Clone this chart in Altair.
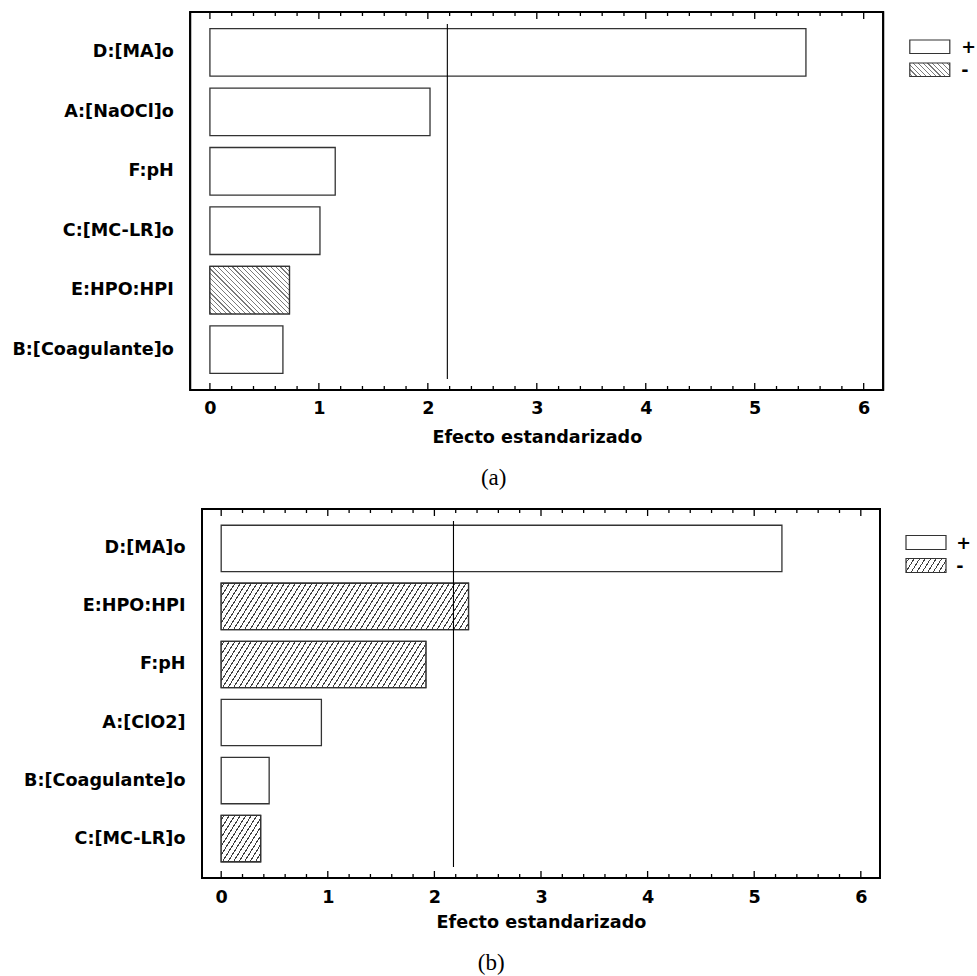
import altair as alt
import pandas as pd

# ---------------- data ----------------
factors_a = ["D:[MA]o", "A:[NaOCl]o", "F:pH", "C:[MC-LR]o", "E:HPO:HPI", "B:[Coagulante]o"]
effects_a = [5.47, 2.02, 1.15, 1.01, 0.73, 0.67]
signs_a = ["+", "+", "+", "+", "-", "+"]

factors_b = ["D:[MA]o", "E:HPO:HPI", "F:pH", "A:[ClO2]", "B:[Coagulante]o", "C:[MC-LR]o"]
effects_b = [5.26, 2.32, 1.92, 0.94, 0.45, 0.37]
signs_b = ["+", "-", "-", "+", "+", "-"]

critical_t = 2.179
x_domain = [-0.18, 6.18]
major_ticks = [0, 1, 2, 3, 4, 5, 6]
minor_ticks = [0.2, 0.4, 0.6, 0.8, 1.2, 1.4, 1.6, 1.8, 2.2, 2.4, 2.6, 2.8,
               3.2, 3.4, 3.6, 3.8, 4.2, 4.4, 4.6, 4.8, 5.2, 5.4, 5.6, 5.8]
legend_signs = ["+", "-"]
axis_title = "Efecto estandarizado"

FONT = "DejaVu Sans"
LABEL_SIZE = 17.6
BAR_STROKE = "#333333"
PAD_INNER, PAD_OUTER = 0.2, 0.28
MAJOR_LEN, MINOR_LEN = 7, 4
Y_EXTENT = 190.7


def hatch(W, H, direction, color, period, lw, m=1.0):
    """Stripe fill built as a hard-stop linear gradient (m = stripe steepness)."""
    total = W + H / m
    white = "white"
    stops = [alt.GradientStop(offset=0, color=white)]
    s = period / 2.0
    last = 0.0
    while s - lw / 2 < total:
        a = max(last, (s - lw / 2) / total)
        b = min(1.0, (s + lw / 2) / total)
        a = round(a, 5)
        b = round(max(a, b), 5)
        stops += [alt.GradientStop(offset=a, color=white),
                  alt.GradientStop(offset=a, color=color),
                  alt.GradientStop(offset=b, color=color),
                  alt.GradientStop(offset=b, color=white)]
        last = b
        s += period
    stops.append(alt.GradientStop(offset=1, color=white))
    rp = H / (m * W)
    k = total / (W * (1 + rp * rp))
    if direction == "/":
        x1, y1, x2, y2 = 0, 0, k, k * rp
    else:
        x1, y1, x2, y2 = 0, 1, k, 1 - k * rp
    return alt.LinearGradient(gradient="linear", stops=stops,
                              x1=x1, y1=y1, x2=x2, y2=y2)


def panel(factors, effects, signs, W, H, shift, direction, hcolor, period, lw, steep,
          leg_x, leg_y1, leg_y2, leg_w, leg_h, text_x,
          caption, caption_offset, label_pad, title_pad):
    """W = frame width, shift = how far the frame starts left of the view origin."""
    df = pd.DataFrame({"factor": factors, "effect": effects, "sign": signs})
    x0, x1 = -shift, W - shift
    ppu = W / (x_domain[1] - x_domain[0])
    step = H / (len(factors) - PAD_INNER + 2 * PAD_OUTER)
    bar_h = step * (1 - PAD_INNER)

    xs = alt.Scale(domain=x_domain, range=[x0, x1], nice=False, zero=False)
    ys = alt.Scale(domain=factors, paddingInner=PAD_INNER, paddingOuter=PAD_OUTER)
    x_axis = alt.Axis(orient="bottom", values=major_ticks, format="d",
                      ticks=False, tickSize=0, domain=False, grid=False,
                      labelPadding=label_pad, titlePadding=title_pad)
    y_axis = alt.Axis(ticks=False, tickSize=0, domain=False, grid=False,
                      labelPadding=17 + shift, minExtent=Y_EXTENT, labelLimit=400)

    def xq(field):
        return alt.X(field, scale=xs, axis=x_axis, title=axis_title)

    def yn():
        return alt.Y("factor:N", scale=ys, sort=factors, axis=y_axis, title=None)

    base = alt.Chart(df)
    frame = base.mark_rect(filled=False, stroke="black", strokeWidth=1.5).encode(
        x=alt.value(x0), x2=alt.value(x1), y=alt.value(0), y2=alt.value(H))

    bars = base.mark_bar(fill="white", stroke=BAR_STROKE, strokeWidth=1.3).encode(
        x=xq("effect:Q"), x2=alt.datum(0), y=yn())

    layers = [bars]
    for f, e, sg in zip(factors, effects, signs):
        if sg == "-":
            g = hatch(e * ppu, bar_h, direction, hcolor, period, lw, steep)
            layers.append(
                base.transform_filter(alt.datum.factor == f)
                .mark_bar(fill=g, stroke=BAR_STROKE, strokeWidth=1.3)
                .encode(x=xq("effect:Q"), x2=alt.datum(0), y=yn())
            )

    rule = alt.Chart(pd.DataFrame({"t": [critical_t]})).mark_rule(
        color="black", strokeWidth=1.1).encode(
        x=xq("t:Q"), y=alt.value(12), y2=alt.value(H - 11))
    layers.append(rule)

    # inward frame ticks drawn from the tick value arrays
    maj = alt.Chart(pd.DataFrame({"tick": major_ticks}))
    mnr = alt.Chart(pd.DataFrame({"tick": minor_ticks}))
    for src, ln in ((maj, MAJOR_LEN), (mnr, MINOR_LEN)):
        layers.append(src.mark_rule(color="black", strokeWidth=1.3).encode(
            x=xq("tick:Q"), y=alt.value(H), y2=alt.value(H - ln)))
        layers.append(src.mark_rule(color="black", strokeWidth=1.3).encode(
            x=xq("tick:Q"), y=alt.value(0), y2=alt.value(ln)))
    layers.append(frame)

    leg_df = pd.DataFrame({"sign": legend_signs})
    plus_rect = alt.Chart(leg_df).transform_filter(alt.datum.sign == "+").mark_rect(
        fill="white", stroke=BAR_STROKE, strokeWidth=1.2).encode(
        x=alt.value(leg_x), x2=alt.value(leg_x + leg_w),
        y=alt.value(leg_y1), y2=alt.value(leg_y1 + leg_h))
    minus_rect = alt.Chart(leg_df).transform_filter(alt.datum.sign == "-").mark_rect(
        fill=hatch(leg_w, leg_h, direction, hcolor, period, lw, steep),
        stroke=BAR_STROKE, strokeWidth=1.2).encode(
        x=alt.value(leg_x), x2=alt.value(leg_x + leg_w),
        y=alt.value(leg_y2), y2=alt.value(leg_y2 + leg_h))
    plus_text = alt.Chart(leg_df).transform_filter(alt.datum.sign == "+").mark_text(
        align="left", baseline="middle", font=FONT, fontSize=LABEL_SIZE,
        fontWeight="bold", color="black").encode(
        text="sign:N", x=alt.value(text_x), y=alt.value(leg_y1 + leg_h / 2 + 1.5))
    minus_text = alt.Chart(leg_df).transform_filter(alt.datum.sign == "-").mark_text(
        align="left", baseline="middle", font=FONT, fontSize=LABEL_SIZE,
        fontWeight="bold", color="black").encode(
        text="sign:N", x=alt.value(text_x), y=alt.value(leg_y2 + leg_h / 2 + 1.5))
    layers += [plus_rect, minus_rect, plus_text, minus_text]

    return alt.layer(*layers).properties(
        width=x1, height=H,
        title=alt.TitleParams(caption, orient="bottom", anchor="middle",
                              frame="bounds", font="Liberation Serif",
                              fontSize=23, fontWeight="normal", color="black",
                              offset=caption_offset),
    )


ORIGIN = 11 + Y_EXTENT  # x of the view origin on the page

chart_a = panel(factors_a, effects_a, signs_a, W=693, H=378, shift=11.7,
                direction="\\", hcolor="#7a7a7a", period=4.8, lw=1.2, steep=1.0,
                leg_x=909.5 - ORIGIN, leg_y1=28, leg_y2=51, leg_w=40, leg_h=13.5,
                text_x=961 - ORIGIN, caption="(a)", caption_offset=21,
                label_pad=9, title_pad=12)

chart_b = panel(factors_b, effects_b, signs_b, W=678, H=369, shift=0,
                direction="/", hcolor="#404040", period=5.5, lw=1.2, steep=1.6,
                leg_x=905.7 - ORIGIN, leg_y1=26.5, leg_y2=49.5, leg_w=40, leg_h=14,
                text_x=956 - ORIGIN, caption="(b)", caption_offset=21,
                label_pad=10, title_pad=8)

chart = alt.vconcat(chart_a, chart_b, spacing=17).properties(
    padding={"left": 11, "top": 11, "right": 0, "bottom": 0},
    background="white",
).configure_view(
    stroke="transparent", strokeWidth=0
).configure_axis(
    labelFont=FONT, labelFontSize=LABEL_SIZE, labelFontWeight="bold",
    labelColor="black", tickColor="black", tickWidth=1.3,
    titleFont=FONT, titleFontSize=LABEL_SIZE, titleFontWeight="bold",
    titleColor="black", grid=False,
)

chart.save("out.html", embed_options={"renderer": "svg", "actions": False})
